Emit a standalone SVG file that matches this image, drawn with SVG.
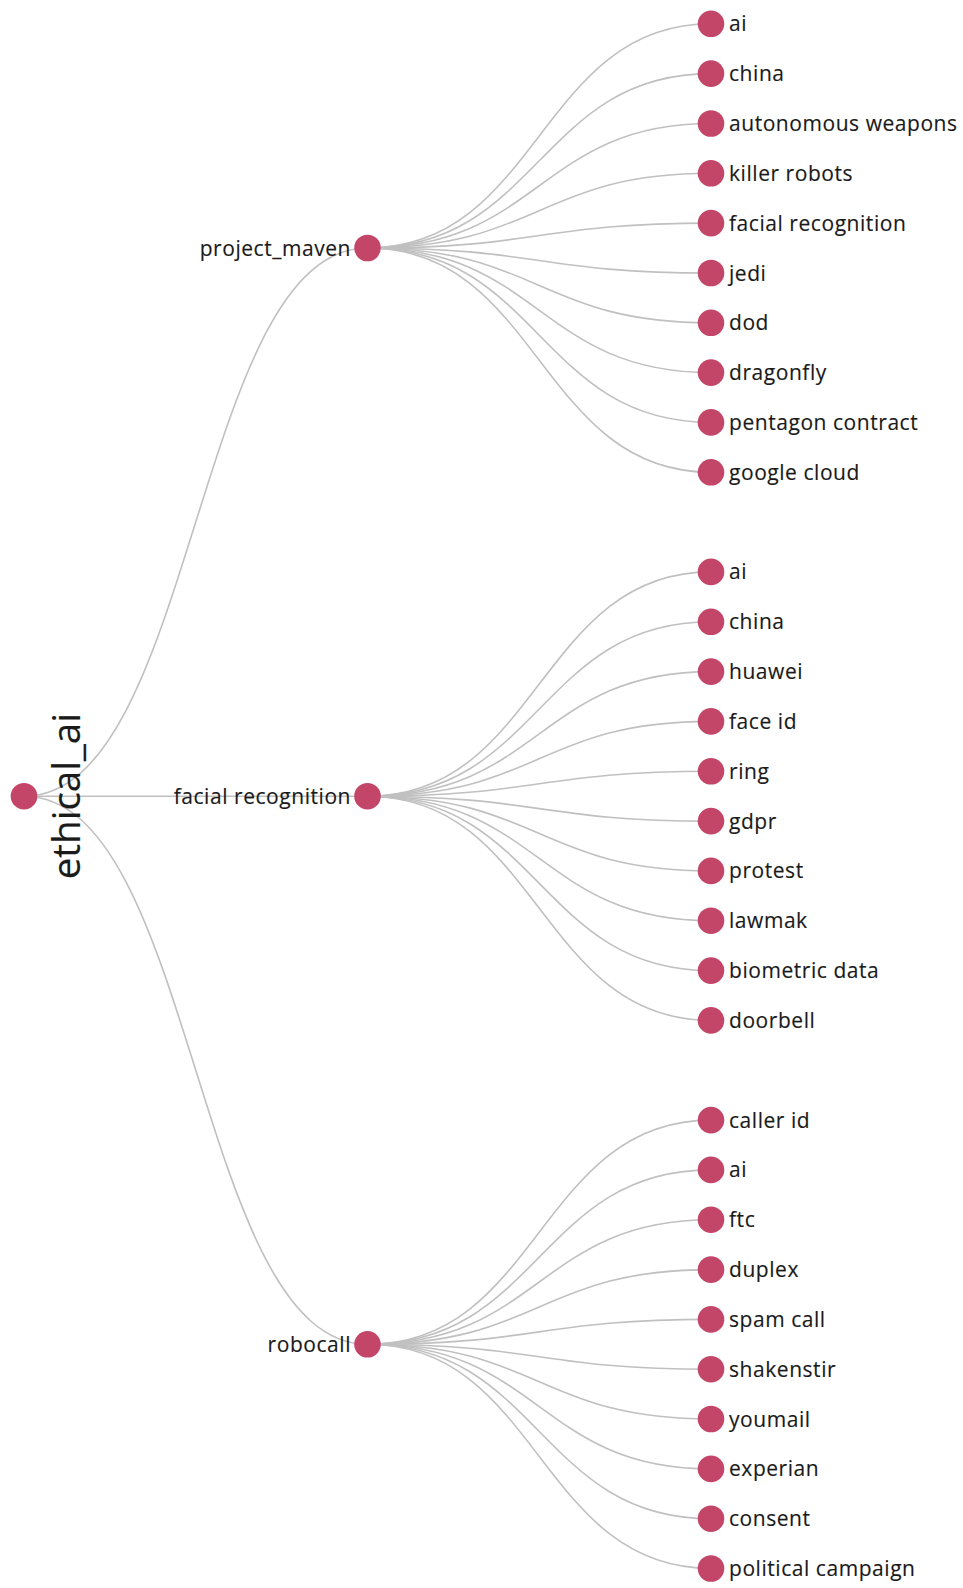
<svg xmlns="http://www.w3.org/2000/svg" width="963" height="1588" viewBox="0 0 963 1588">
<style>
.link{fill:none;stroke:#c0c0c0;stroke-width:1.6}
.node circle{fill:#c34668}
.node text{font-family:"Open Sans","Noto Sans",sans-serif;font-size:21px;fill:#1a1a1a;letter-spacing:0.55px;stroke:#1a1a1a;stroke-width:0.15px}
.leaf text{text-anchor:start}
.mid text{text-anchor:end}
.root text{font-size:38.5px;text-anchor:middle;letter-spacing:0}
</style>
<rect width="963" height="1588" fill="#fff"/>
<g id="links">
<path class="link" d="M24,796.2C195.75,796.2 195.75,248 367.5,248"/>
<path class="link" d="M24,796.2C195.75,796.2 195.75,796.2 367.5,796.2"/>
<path class="link" d="M24,796.2C195.75,796.2 195.75,1344.3 367.5,1344.3"/>
<path class="link" d="M367.5,248C539.25,248 539.25,23.8 711,23.8"/>
<path class="link" d="M367.5,248C539.25,248 539.25,73.6 711,73.6"/>
<path class="link" d="M367.5,248C539.25,248 539.25,123.5 711,123.5"/>
<path class="link" d="M367.5,248C539.25,248 539.25,173.3 711,173.3"/>
<path class="link" d="M367.5,248C539.25,248 539.25,223.1 711,223.1"/>
<path class="link" d="M367.5,248C539.25,248 539.25,273 711,273"/>
<path class="link" d="M367.5,248C539.25,248 539.25,322.8 711,322.8"/>
<path class="link" d="M367.5,248C539.25,248 539.25,372.6 711,372.6"/>
<path class="link" d="M367.5,248C539.25,248 539.25,422.4 711,422.4"/>
<path class="link" d="M367.5,248C539.25,248 539.25,472.3 711,472.3"/>
<path class="link" d="M367.5,796.2C539.25,796.2 539.25,571.9 711,571.9"/>
<path class="link" d="M367.5,796.2C539.25,796.2 539.25,621.8 711,621.8"/>
<path class="link" d="M367.5,796.2C539.25,796.2 539.25,671.6 711,671.6"/>
<path class="link" d="M367.5,796.2C539.25,796.2 539.25,721.4 711,721.4"/>
<path class="link" d="M367.5,796.2C539.25,796.2 539.25,771.3 711,771.3"/>
<path class="link" d="M367.5,796.2C539.25,796.2 539.25,821.1 711,821.1"/>
<path class="link" d="M367.5,796.2C539.25,796.2 539.25,870.9 711,870.9"/>
<path class="link" d="M367.5,796.2C539.25,796.2 539.25,920.7 711,920.7"/>
<path class="link" d="M367.5,796.2C539.25,796.2 539.25,970.6 711,970.6"/>
<path class="link" d="M367.5,796.2C539.25,796.2 539.25,1020.4 711,1020.4"/>
<path class="link" d="M367.5,1344.3C539.25,1344.3 539.25,1120.1 711,1120.1"/>
<path class="link" d="M367.5,1344.3C539.25,1344.3 539.25,1169.9 711,1169.9"/>
<path class="link" d="M367.5,1344.3C539.25,1344.3 539.25,1219.7 711,1219.7"/>
<path class="link" d="M367.5,1344.3C539.25,1344.3 539.25,1269.6 711,1269.6"/>
<path class="link" d="M367.5,1344.3C539.25,1344.3 539.25,1319.4 711,1319.4"/>
<path class="link" d="M367.5,1344.3C539.25,1344.3 539.25,1369.2 711,1369.2"/>
<path class="link" d="M367.5,1344.3C539.25,1344.3 539.25,1419 711,1419"/>
<path class="link" d="M367.5,1344.3C539.25,1344.3 539.25,1468.9 711,1468.9"/>
<path class="link" d="M367.5,1344.3C539.25,1344.3 539.25,1518.7 711,1518.7"/>
<path class="link" d="M367.5,1344.3C539.25,1344.3 539.25,1568.5 711,1568.5"/>
</g>
<g id="node-ethical_ai" class="node root"><circle cx="24" cy="796.2" r="13.3"/><text x="80" y="796.2" transform="rotate(-90 80 796.2)">ethical_ai</text></g>
<g id="node-project_maven" class="node mid"><circle cx="367.5" cy="248" r="13.3"/><text x="351" y="248" dy="0.36em">project_maven</text></g>
<g id="node-facial_recognition" class="node mid"><circle cx="367.5" cy="796.2" r="13.3"/><text x="351" y="796.2" dy="0.36em">facial recognition</text></g>
<g id="node-robocall" class="node mid"><circle cx="367.5" cy="1344.3" r="13.3"/><text x="351" y="1344.3" dy="0.36em">robocall</text></g>
<g id="node-pm-ai" class="node leaf"><circle cx="711" cy="23.8" r="13.3"/><text x="729" y="23.8" dy="0.36em">ai</text></g>
<g id="node-pm-china" class="node leaf"><circle cx="711" cy="73.6" r="13.3"/><text x="729" y="73.6" dy="0.36em">china</text></g>
<g id="node-pm-autonomous_weapons" class="node leaf"><circle cx="711" cy="123.5" r="13.3"/><text x="729" y="123.5" dy="0.36em">autonomous weapons</text></g>
<g id="node-pm-killer_robots" class="node leaf"><circle cx="711" cy="173.3" r="13.3"/><text x="729" y="173.3" dy="0.36em">killer robots</text></g>
<g id="node-pm-facial_recognition" class="node leaf"><circle cx="711" cy="223.1" r="13.3"/><text x="729" y="223.1" dy="0.36em">facial recognition</text></g>
<g id="node-pm-jedi" class="node leaf"><circle cx="711" cy="273" r="13.3"/><text x="729" y="273" dy="0.36em">jedi</text></g>
<g id="node-pm-dod" class="node leaf"><circle cx="711" cy="322.8" r="13.3"/><text x="729" y="322.8" dy="0.36em">dod</text></g>
<g id="node-pm-dragonfly" class="node leaf"><circle cx="711" cy="372.6" r="13.3"/><text x="729" y="372.6" dy="0.36em">dragonfly</text></g>
<g id="node-pm-pentagon_contract" class="node leaf"><circle cx="711" cy="422.4" r="13.3"/><text x="729" y="422.4" dy="0.36em">pentagon contract</text></g>
<g id="node-pm-google_cloud" class="node leaf"><circle cx="711" cy="472.3" r="13.3"/><text x="729" y="472.3" dy="0.36em">google cloud</text></g>
<g id="node-fr-ai" class="node leaf"><circle cx="711" cy="571.9" r="13.3"/><text x="729" y="571.9" dy="0.36em">ai</text></g>
<g id="node-fr-china" class="node leaf"><circle cx="711" cy="621.8" r="13.3"/><text x="729" y="621.8" dy="0.36em">china</text></g>
<g id="node-fr-huawei" class="node leaf"><circle cx="711" cy="671.6" r="13.3"/><text x="729" y="671.6" dy="0.36em">huawei</text></g>
<g id="node-fr-face_id" class="node leaf"><circle cx="711" cy="721.4" r="13.3"/><text x="729" y="721.4" dy="0.36em">face id</text></g>
<g id="node-fr-ring" class="node leaf"><circle cx="711" cy="771.3" r="13.3"/><text x="729" y="771.3" dy="0.36em">ring</text></g>
<g id="node-fr-gdpr" class="node leaf"><circle cx="711" cy="821.1" r="13.3"/><text x="729" y="821.1" dy="0.36em">gdpr</text></g>
<g id="node-fr-protest" class="node leaf"><circle cx="711" cy="870.9" r="13.3"/><text x="729" y="870.9" dy="0.36em">protest</text></g>
<g id="node-fr-lawmak" class="node leaf"><circle cx="711" cy="920.7" r="13.3"/><text x="729" y="920.7" dy="0.36em">lawmak</text></g>
<g id="node-fr-biometric_data" class="node leaf"><circle cx="711" cy="970.6" r="13.3"/><text x="729" y="970.6" dy="0.36em">biometric data</text></g>
<g id="node-fr-doorbell" class="node leaf"><circle cx="711" cy="1020.4" r="13.3"/><text x="729" y="1020.4" dy="0.36em">doorbell</text></g>
<g id="node-rc-caller_id" class="node leaf"><circle cx="711" cy="1120.1" r="13.3"/><text x="729" y="1120.1" dy="0.36em">caller id</text></g>
<g id="node-rc-ai" class="node leaf"><circle cx="711" cy="1169.9" r="13.3"/><text x="729" y="1169.9" dy="0.36em">ai</text></g>
<g id="node-rc-ftc" class="node leaf"><circle cx="711" cy="1219.7" r="13.3"/><text x="729" y="1219.7" dy="0.36em">ftc</text></g>
<g id="node-rc-duplex" class="node leaf"><circle cx="711" cy="1269.6" r="13.3"/><text x="729" y="1269.6" dy="0.36em">duplex</text></g>
<g id="node-rc-spam_call" class="node leaf"><circle cx="711" cy="1319.4" r="13.3"/><text x="729" y="1319.4" dy="0.36em">spam call</text></g>
<g id="node-rc-shakenstir" class="node leaf"><circle cx="711" cy="1369.2" r="13.3"/><text x="729" y="1369.2" dy="0.36em">shakenstir</text></g>
<g id="node-rc-youmail" class="node leaf"><circle cx="711" cy="1419" r="13.3"/><text x="729" y="1419" dy="0.36em">youmail</text></g>
<g id="node-rc-experian" class="node leaf"><circle cx="711" cy="1468.9" r="13.3"/><text x="729" y="1468.9" dy="0.36em">experian</text></g>
<g id="node-rc-consent" class="node leaf"><circle cx="711" cy="1518.7" r="13.3"/><text x="729" y="1518.7" dy="0.36em">consent</text></g>
<g id="node-rc-political_campaign" class="node leaf"><circle cx="711" cy="1568.5" r="13.3"/><text x="729" y="1568.5" dy="0.36em">political campaign</text></g>
</svg>
